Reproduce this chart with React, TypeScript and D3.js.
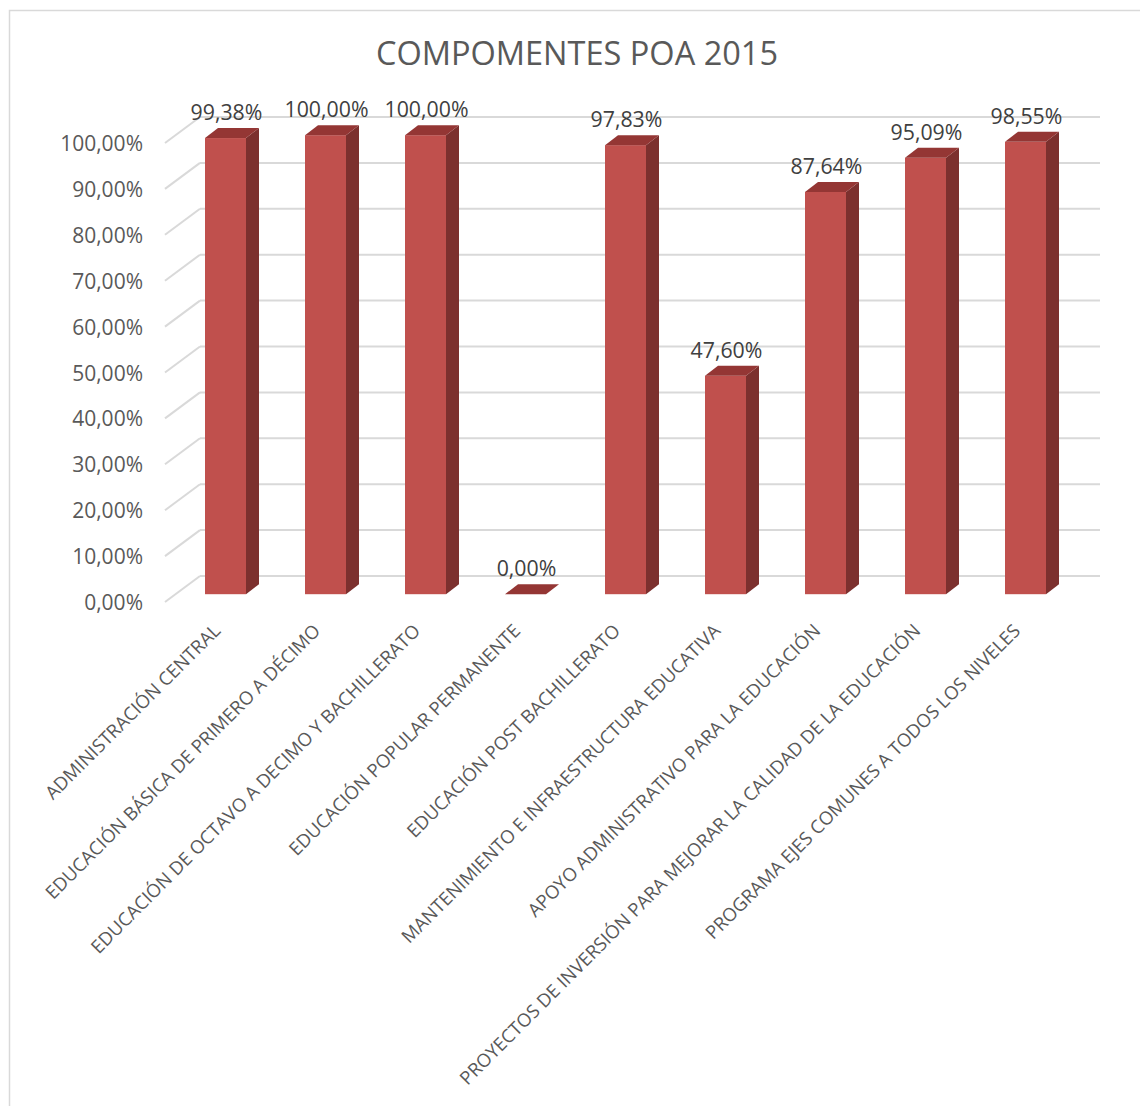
import React from "react";
import * as d3 from "d3";

const categories: string[] = [
  "ADMINISTRACIÓN CENTRAL",
  "EDUCACIÓN BÁSICA DE PRIMERO A DÉCIMO",
  "EDUCACIÓN DE OCTAVO A DECIMO Y BACHILLERATO",
  "EDUCACIÓN POPULAR PERMANENTE",
  "EDUCACIÓN POST BACHILLERATO",
  "MANTENIMIENTO E INFRAESTRUCTURA EDUCATIVA",
  "APOYO ADMINISTRATIVO PARA LA EDUCACIÓN",
  "PROYECTOS DE INVERSIÓN PARA MEJORAR LA CALIDAD DE LA EDUCACIÓN",
  "PROGRAMA EJES COMUNES A TODOS LOS NIVELES",
];
const values: number[] = [0.9938, 1.0, 1.0, 0.0, 0.9783, 0.476, 0.8764, 0.9509, 0.9855];
const yTicks: number[] = [0, 0.1, 0.2, 0.3, 0.4, 0.5, 0.6, 0.7, 0.8, 0.9, 1.0];
const title = "COMPOMENTES POA 2015";

const fmt = (v: number) => (v * 100).toFixed(2).replace(".", ",") + "%";

export default function App() {
  const W = 1140;
  const H = 1106;
  // floor front-left and depth
  const x0 = 165;
  const plotW = 900;
  const depthX = 35;
  const depthY = -26;
  const barF = 0.3; // bar front plane position within depth
  const barDX = 13;
  const barDY = -10;

  const yFront = d3.scaleLinear().domain([0, 1]).range([602, 143]);
  const yBar = (v: number) => yFront(v) + barF * depthY;

  const x = d3
    .scaleBand<string>()
    .domain(categories)
    .range([x0 + barF * depthX, x0 + plotW + barF * depthX])
    .paddingInner(0.59)
    .paddingOuter(0.295);
  const bw = x.bandwidth();

  const font = "'Open Sans', sans-serif";
  const textColor = "#595959";

  return (
    <svg
      width={W}
      height={H}
      style={{ position: "absolute", left: 0, top: 0, background: "#fff" }}
      fontFamily={font}
    >
      <rect x={0} y={0} width={W} height={H} fill="#fff" />
      <rect x={9.5} y={10.5} width={1160} height={1120} fill="none" stroke="#d9d9d9" strokeWidth={1.5} />
      <text x={577} y={65} textAnchor="middle" fontSize={32.5} fill={textColor}>
        {title}
      </text>
      {/* gridlines */}
      {yTicks.map((t) => {
        const yf = yFront(t);
        return (
          <g key={"g" + t} stroke="#d9d9d9" strokeWidth={2} fill="none">
            <line x1={x0} y1={yf} x2={x0 + depthX} y2={yf + depthY} />
            <line x1={x0 + depthX} y1={yf + depthY} x2={x0 + depthX + plotW} y2={yf + depthY} />
          </g>
        );
      })}
      {/* y labels */}
      {yTicks.map((t) => (
        <text key={"yl" + t} x={143} y={yFront(t) + 8} textAnchor="end" fontSize={21} fill={textColor}>
          {fmt(t)}
        </text>
      ))}
      {/* bars */}
      {categories.map((c, i) => {
        const v = values[i];
        const bx = x(c) as number;
        const yt = yBar(v);
        const yb = yBar(0);
        return (
          <g key={"b" + i}>
            {v > 0 && <rect x={bx} y={yt} width={bw} height={yb - yt} fill="#C0504D" />}
            {v > 0 && (
              <polygon
                points={`${bx + bw},${yt} ${bx + bw + barDX},${yt + barDY} ${bx + bw + barDX},${yb + barDY} ${bx + bw},${yb}`}
                fill="#7C302E"
              />
            )}
            <polygon
              points={`${bx},${yt} ${bx + barDX},${yt + barDY} ${bx + bw + barDX},${yt + barDY} ${bx + bw},${yt}`}
              fill="#943634"
            />
          </g>
        );
      })}
      {/* data labels */}
      {categories.map((c, i) => {
        const v = values[i];
        const bx = x(c) as number;
        return (
          <text
            key={"dl" + i}
            x={bx + bw / 2 + 1}
            y={yBar(v) + barDY - 8}
            textAnchor="middle"
            fontSize={21.3}
            fill="#404040"
          >
            {fmt(v)}
          </text>
        );
      })}
      {/* x labels */}
      {categories.map((c, i) => {
        const cx = (x(c) as number) + bw / 2 - 4;
        const cy = 632;
        return (
          <text
            key={"xl" + i}
            x={cx}
            y={cy}
            textAnchor="end"
            fontSize={18.5}
            fill={textColor}
            transform={`rotate(-45 ${cx} ${cy})`}
          >
            {c}
          </text>
        );
      })}
    </svg>
  );
}
